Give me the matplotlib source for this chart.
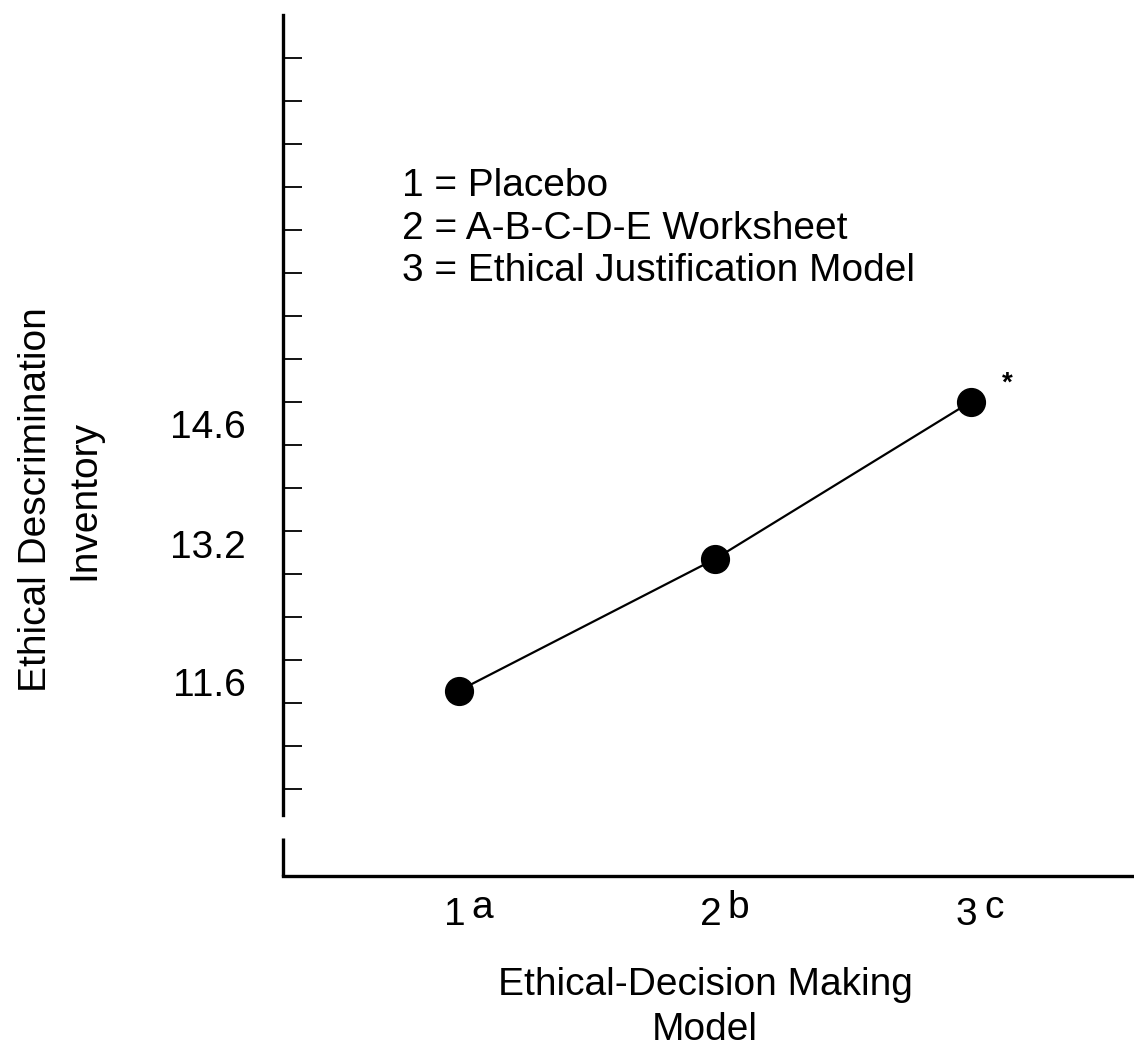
import numpy as np
import matplotlib.pyplot as plt

# data
groups = [1, 2, 3]
group_letters = ["a", "b", "c"]
edi_means = [11.5, 13.03, 14.86]
ytick_values = [11.6, 13.2, 14.6]
ytick_labels = ["11.6", "13.2", "14.6"]
legend_lines = [
    "1 = Placebo",
    "2 = A-B-C-D-E Worksheet",
    "3 = Ethical Justification Model",
]

plt.rcParams["font.family"] = ["Liberation Sans", "DejaVu Sans"]
FS = 28

fig = plt.figure(figsize=(11.34, 10.52), dpi=100)
ax = fig.add_axes([0.2496, 0.1673, 0.7504, 0.8184])

ax.plot(groups, edi_means, color="black", lw=1.6,
        marker="o", ms=20, mfc="black", mec="black")

x0, x1 = 0.3125, 3.637
y0, y1 = 9.344, 19.356
ax.set_xlim(x0, x1)
ax.set_ylim(y0, y1)

# axes: only left and bottom, left one broken near the bottom
ax.spines["top"].set_visible(False)
ax.spines["right"].set_visible(False)
ax.spines["left"].set_bounds(10.05, y1)
ax.spines["left"].set_linewidth(2.4)
ax.spines["bottom"].set_linewidth(2.4)
ax.plot([x0, x0], [y0, 9.786], color="black", lw=2.4,
        clip_on=False, solid_capstyle="butt")

# tick marks (unlabelled) every half unit, labels sit between them
ax.set_yticks(np.arange(10.356, 18.9, 0.5), minor=True)
ax.set_yticks(ytick_values, ytick_labels)
ax.tick_params(axis="y", which="minor", direction="in", length=14, width=1.3)
ax.tick_params(axis="y", which="major", length=0, pad=27, labelsize=FS)
ax.set_xticks([])

# x labels with superscript letters
for g, letter in zip(groups, group_letters):
    ax.annotate(str(g), xy=(g, 0), xycoords=("data", "axes fraction"),
                xytext=(-3, -28), textcoords="offset points",
                ha="center", va="center", fontsize=FS)
    ax.annotate(letter, xy=(g, 0), xycoords=("data", "axes fraction"),
                xytext=(17, -23), textcoords="offset points",
                ha="center", va="center", fontsize=FS)

# significance mark
ax.annotate("*", xy=(groups[2], edi_means[2]), xytext=(26, 13),
            textcoords="offset points", ha="center", va="center",
            fontsize=20, fontweight="bold")

ax.text(0.14, 0.752, "\n".join(legend_lines), transform=ax.transAxes,
        ha="left", va="center", fontsize=FS, linespacing=1.24)

fig.text(705 / 1134, 0.0425, "Ethical-Decision Making\nModel",
         ha="center", va="center", fontsize=FS, linespacing=1.33)
fig.text(60 / 1134, 0.525, "Ethical Descrimination\nInventory",
         rotation=90, ha="center", va="center", fontsize=FS,
         linespacing=1.42, multialignment="center")

fig.savefig("out.png", dpi=100)
